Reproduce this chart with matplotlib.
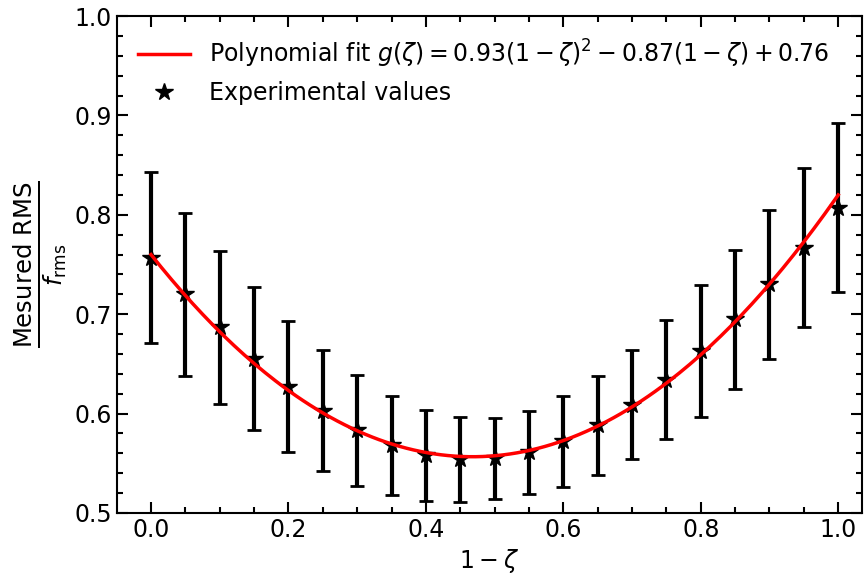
import numpy as np
import matplotlib
matplotlib.use('Agg')
import matplotlib.pyplot as plt

plt.rcParams['mathtext.fontset'] = 'dejavusans'

# 1 - zeta
x = [0.0, 0.05, 0.1, 0.15, 0.2, 0.25, 0.3, 0.35, 0.4, 0.45, 0.5,
     0.55, 0.6, 0.65, 0.7, 0.75, 0.8, 0.85, 0.9, 0.95, 1.0]
rms = [0.757, 0.720, 0.687, 0.655, 0.627, 0.603, 0.583, 0.568, 0.558, 0.554, 0.555,
       0.561, 0.572, 0.588, 0.609, 0.634, 0.663, 0.695, 0.730, 0.767, 0.807]
err = [0.086, 0.082, 0.077, 0.072, 0.066, 0.061, 0.056, 0.050, 0.046, 0.043, 0.041,
       0.042, 0.046, 0.050, 0.055, 0.060, 0.066, 0.070, 0.075, 0.080, 0.085]
coef = [0.93, -0.87, 0.76]

fig, ax = plt.subplots(figsize=(8.64, 5.75), dpi=100)

xs = np.linspace(0, 1, 200)
ax.plot(xs, np.polyval(coef, xs), color='red', lw=2.5, zorder=3,
        label=r'Polynomial fit $g(\zeta) = 0.93(1-\zeta)^2 - 0.87(1-\zeta) + 0.76$')
ax.errorbar(x, rms, yerr=err, fmt='none', ecolor='black', elinewidth=3,
            capsize=5, capthick=2, zorder=2)
ax.plot(x, rms, '*', color='black', ms=13, zorder=2, label='Experimental values')

ax.set_xlim(-0.05, 1.035)
ax.set_ylim(0.5, 1.0)
ax.set_xticks([0.0, 0.2, 0.4, 0.6, 0.8, 1.0])
ax.set_yticks([0.5, 0.6, 0.7, 0.8, 0.9, 1.0])
ax.set_xticks(np.arange(0, 1.01, 0.05), minor=True)
ax.set_yticks(np.arange(0.5, 1.001, 0.02), minor=True)
ax.tick_params(which='both', direction='in', top=True, right=True, labelsize=17, width=1.5)
ax.tick_params(which='major', length=8)
ax.tick_params(which='minor', length=4)
for s in ax.spines.values():
    s.set_linewidth(1.5)

ax.set_xlabel(r'$1-\zeta$', fontsize=17)
ax.set_ylabel(r'$\frac{\mathrm{Mesured\ RMS}}{f_\mathrm{rms}}$', fontsize=25)
ax.legend(loc='upper left', frameon=False, fontsize=17, handlelength=2.2)

fig.subplots_adjust(left=0.135, right=0.998, top=0.972, bottom=0.108)
fig.savefig('out.png')
